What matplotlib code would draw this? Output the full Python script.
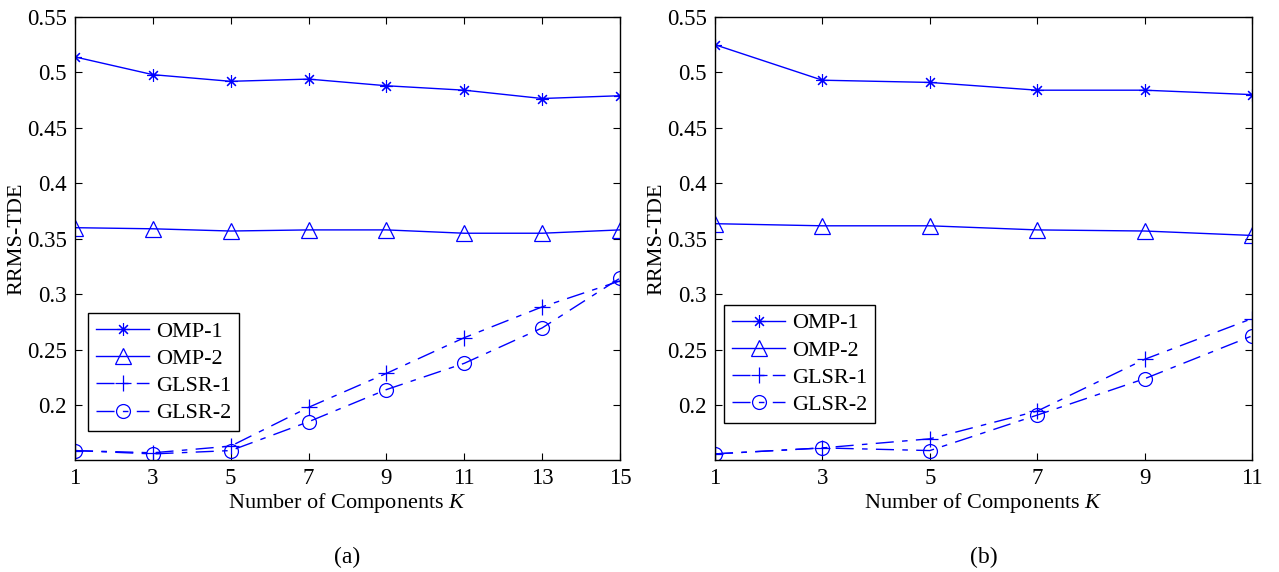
import matplotlib
matplotlib.use('Agg')
import matplotlib.pyplot as plt
import numpy as np

plt.rcParams['font.family'] = 'Liberation Serif'
plt.rcParams['mathtext.fontset'] = 'custom'
plt.rcParams['mathtext.rm'] = 'Liberation Serif'
plt.rcParams['mathtext.it'] = 'Liberation Serif:italic'

# (a) K = 1..15
k_a = [1, 3, 5, 7, 9, 11, 13, 15]
omp1_a = [0.514, 0.498, 0.492, 0.494, 0.488, 0.484, 0.4765, 0.479]
omp2_a = [0.360, 0.359, 0.357, 0.358, 0.358, 0.355, 0.355, 0.358]
glsr1_a = [0.159, 0.157, 0.163, 0.198, 0.2286, 0.2608, 0.2886, 0.312]
glsr2_a = [0.159, 0.156, 0.159, 0.185, 0.214, 0.2377, 0.2696, 0.3145]

# (b) K = 1..11
k_b = [1, 3, 5, 7, 9, 11]
omp1_b = [0.525, 0.493, 0.491, 0.484, 0.484, 0.480]
omp2_b = [0.3636, 0.3617, 0.3617, 0.358, 0.357, 0.353]
glsr1_b = [0.156, 0.1614, 0.1696, 0.1946, 0.2413, 0.278]
glsr2_b = [0.156, 0.1614, 0.159, 0.191, 0.2238, 0.2624]

labels = ['OMP-1', 'OMP-2', 'GLSR-1', 'GLSR-2']
yticks = [0.2, 0.25, 0.3, 0.35, 0.4, 0.45, 0.5, 0.55]
ytick_labels = ['0.2', '0.25', '0.3', '0.35', '0.4', '0.45', '0.5', '0.55']

fig = plt.figure(figsize=(12.79, 5.72), dpi=100)
ax_a = fig.add_axes([75 / 1279, 1 - 460 / 572, 545 / 1279, 443 / 572])
ax_b = fig.add_axes([715 / 1279, 1 - 460 / 572, 537 / 1279, 443 / 572])

# matlab style dash-dot
dashdot = (0, (13, 6, 4, 6))

def draw(ax, k, s1, s2, s3, s4, caption, leg_pos):
    blue = '#0000ff'
    ax.plot(k, s1, color=blue, lw=1, marker=(8, 2, 0), ms=9, mew=0.8, label=labels[0])
    ax.plot(k, s2, color=blue, lw=1, marker='^', ms=11, mfc='none', mew=0.9, label=labels[1])
    ax.plot(k, s3, color=blue, lw=1, ls=dashdot, marker='+', ms=12, mew=0.9, label=labels[2])
    ax.plot(k, s4, color=blue, lw=1, ls=dashdot, marker='o', ms=10, mfc='none', mew=0.9, label=labels[3])
    ax.set_xlim(k[0], k[-1])
    ax.set_ylim(0.1505, 0.55)
    ax.set_xticks(k)
    ax.set_yticks(yticks)
    ax.set_yticklabels(ytick_labels)
    ax.tick_params(direction='in', top=True, right=True, labelsize=16.5, length=5, pad=6)
    for sp in ax.spines.values():
        sp.set_linewidth(1)
    ax.set_xlabel('Number of Components $K$', fontsize=16, labelpad=1)
    ax.set_ylabel('RRMS-TDE', fontsize=16, va='center')
    w = ax.get_position().width * 1279
    ax.yaxis.set_label_coords(-58 / w, 0.5)
    leg = ax.legend(loc='lower left', bbox_to_anchor=leg_pos, borderaxespad=0,
                    fontsize=16, fancybox=False, edgecolor='black', framealpha=1,
                    handlelength=2.4, handletextpad=0.3, borderpad=0.35,
                    labelspacing=0.3)
    leg.get_frame().set_linewidth(1)
    ax.text(0.5, -(557 - 460) / 443, caption, transform=ax.transAxes,
            ha='center', va='center', fontsize=17)

draw(ax_a, k_a, omp1_a, omp2_a, glsr1_a, glsr2_a, '(a)', (0.024, 0.065))
draw(ax_b, k_b, omp1_b, omp2_b, glsr1_b, glsr2_b, '(b)', (0.017, 0.084))

fig.savefig('out.png', dpi=100)
